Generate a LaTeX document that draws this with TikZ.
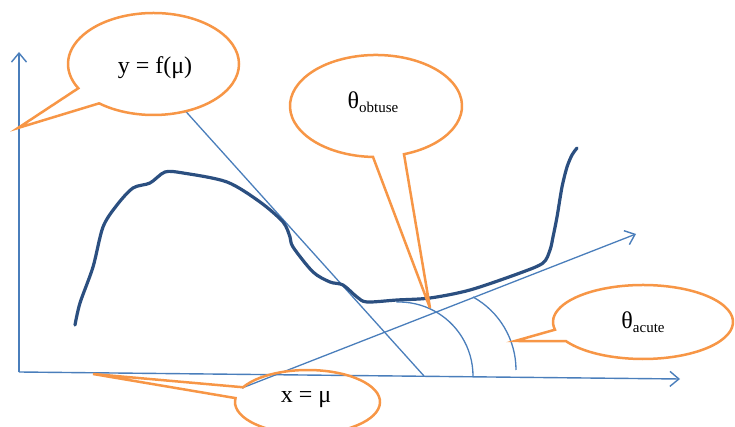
\documentclass[tikz,border=0pt]{standalone}
\usepackage{fontspec}
\setmainfont{Liberation Serif}
\usetikzlibrary{arrows.meta,calc}
\definecolor{axblue}{HTML}{4A7EBB}
\definecolor{curveblue}{HTML}{2B4F80}
\definecolor{bubor}{HTML}{F79646}
\tikzset{
  axis/.style={draw=axblue, line width=1.4pt},
  tang/.style={draw=axblue, line width=1.3pt},
  angarc/.style={draw=axblue, line width=1.3pt},
  fcurve/.style={draw=curveblue, line width=3.2pt, line join=round, line cap=round},
  bubble/.style={draw=bubor, line width=2.5pt, line join=miter},
  lbl/.style={inner sep=0pt, font=\fontsize{24}{28}\selectfont},
  arrowtip/.style={-{Straight Barb[length=9pt,width=15pt,line width=1.4pt]}}
}
\begin{document}
\begin{tikzpicture}[x=1pt,y=1pt]
\useasboundingbox (0,0) rectangle (735,427);
% coordinates
\coordinate (O) at (19,55);
\coordinate (ytop) at (19,375);
\coordinate (xend) at (680,48);
\coordinate (t1a) at (180,322);
\coordinate (t1b) at (424,51);
\coordinate (t2a) at (242,39);
\coordinate (t2b) at (636,193);
\coordinate (a1c) at (399,51);
\coordinate (a2c) at (432.5,57);
\coordinate (c1) at (153.5,363);
\coordinate (tip1) at (18,299);
\coordinate (c2) at (376,321);
\coordinate (tip2) at (430,119);
\coordinate (c3) at (643,105);
\coordinate (tip3) at (515,86);
\coordinate (c4) at (307.5,25);
\coordinate (tip4) at (93,53);
% axes
\draw[axis,arrowtip] (O) -- (ytop);
\draw[axis,arrowtip] (O) -- (xend);
% tangents
\draw[tang] (t1a) -- (t1b);
\draw[tang,arrowtip] (t2a) -- (t2b);
% angle arcs
\draw[angarc] ($(a1c)+(92:74)$) arc[start angle=92, end angle=0, radius=74];
\draw[angarc] ($(a2c)+(61:83.5)$) arc[start angle=61, end angle=0, radius=83.5];
% curve
\draw[fcurve] plot[smooth, tension=0.5] coordinates {(75,102) (80,124) (93,160) (103,200) (117,222) (133,239) (150,244) (165,255) (183,254) (227,245) (260,225) (283,205) (290,190) (293,180) (313,155) (330,145) (343,142) (357,130) (367,125) (397,127) (430,129) (470,137) (520,154) (543,164) (550,177) (553,190) (557,210) (562,240) (567,260) (572,272) (577,279)};
% bubbles
\draw[bubble,fill=white] (tip1) -- ($(c1)+(230.5:85.5 and 51)$) arc[start angle=230.5, end angle=568.4, x radius=85.5, y radius=51] -- cycle;
\draw[bubble,fill=white] (tip2) -- ($(c2)+(289:86 and 51)$) arc[start angle=289, end angle=628, x radius=86, y radius=51] -- cycle;
\draw[bubble,fill=white] (tip3) -- ($(c3)+(211:90 and 37)$) arc[start angle=211, end angle=552, x radius=90, y radius=37] -- cycle;
\draw[bubble] (tip4) -- ($(c4)+(173:72.5 and 32)$) arc[start angle=173, end angle=512.6, x radius=72.5, y radius=32] -- cycle;
% labels
\node[lbl] (lblY) at (155,359.5) {y = f(μ)};
\node[lbl] (lblObt) at (373,325) {θ\raisebox{-4pt}{\fontsize{15}{17}\selectfont obtuse}};
\node[lbl] (lblAcu) at (643,105) {θ\raisebox{-4pt}{\fontsize{15}{17}\selectfont acute}};
\node[lbl] (lblX) at (306,27) {x = μ};
\end{tikzpicture}
\end{document}
